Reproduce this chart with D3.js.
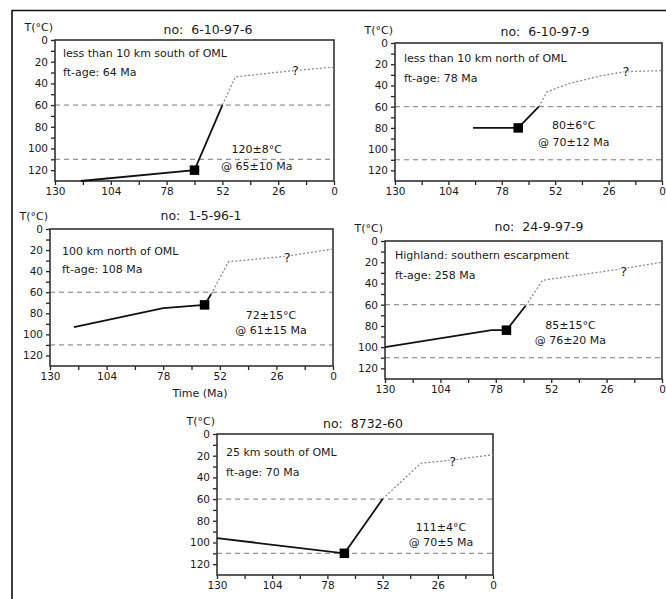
<!DOCTYPE html>
<html><head><meta charset="utf-8">
<script src="https://cdn.jsdelivr.net/npm/d3@7"></script>
<style>
body{margin:0;background:#fff;}
svg text{font-family:"DejaVu Sans",Verdana,sans-serif;fill:#1a1a1a;}
</style></head>
<body>
<script>
// ---- data ----
const titles = ["no:  6-10-97-6", "no:  6-10-97-9", "no:  1-5-96-1", "no:  24-9-97-9", "no:  8732-60"];
const locations = ["less than 10 km south of OML", "less than 10 km north of OML", "100 km north of OML", "Highland: southern escarpment", "25 km south of OML"];
const ftAges = ["ft-age: 64 Ma", "ft-age: 78 Ma", "ft-age: 108 Ma", "ft-age: 258 Ma", "ft-age: 70 Ma"];
const tempLabels = ["120±8°C", "80±6°C", "72±15°C", "85±15°C", "111±4°C"];
const ageLabels = ["@ 65±10 Ma", "@ 70±12 Ma", "@ 61±15 Ma", "@ 76±20 Ma", "@ 70±5 Ma"];
const squareTimes = [65, 70, 59, 73, 70];
const squareTemps = [120, 80, 72, 84, 110];
const solidPaths = [
  [[118,130],[65,120],[52,60]],
  [[92,80],[70,80],[60,60]],
  [[119,93],[78,75],[59,72],[56,62]],
  [[130,100],[80,84],[73,84],[64,61]],
  [[130,96],[70,110],[52,60]]
];
const dottedPaths = [
  [[52,60],[46,34],[18,28],[0,25]],
  [[60,60],[56,46],[45,38],[30,31],[18,27],[0,26]],
  [[56,62],[48,31],[22,26],[0,19]],
  [[64,61],[56,37],[18,26],[0,20]],
  [[52,60],[34,27],[19,24],[0,19]]
];
const qmarks = [[18,28],[17.5,27],[21,27],[18,29],[19,25]];
const xTicks = [130, 104, 78, 52, 26, 0];
const xMinorTicks = [117, 91, 65, 39, 13];
const yTicks = [0, 20, 40, 60, 80, 100, 120];
const yMinorTicks = [10, 30, 50, 70, 90, 110];
const refTemps = [60, 110];
const tempAnnotPos = [[36,101,117],[43,78,94],[28.5,82,96],[43,80,94],[24.5,86,100]];

// ---- layout ----
const boxes = [ // left, right, top, bottom
  [55, 334, 40, 181],
  [395, 662, 43, 181],
  [50, 333, 229, 366],
  [385, 662, 241, 379],
  [217, 493, 434, 575]
];
const textOffsets = [ // x-in, line1 dy, line2 dy
  [8, 13, 32], [9, 15, 35], [12, 22, 40], [10, 14, 34], [9, 18, 38]
];
const titleCenters = [[208,29],[545,31],[201,215],[539,226],[363,423]];

const W = 666, H = 599;
const svg = d3.select("body").append("svg").attr("width", W).attr("height", H);

svg.append("path").attr("d", `M12,${H} L12,10.5 L${W},10.5`)
  .attr("fill","none").attr("stroke","#111").attr("stroke-width",1.6);

boxes.forEach((b, i) => {
  const [l, r, t, bt] = b;
  const x = d3.scaleLinear().domain([130, 0]).range([l, r]);
  const y = d3.scaleLinear().domain([0, 130]).range([t, bt]);
  const g = svg.append("g");

  g.selectAll(".ref").data(refTemps).join("line")
    .attr("x1", l).attr("x2", r).attr("y1", d => y(d)).attr("y2", d => y(d))
    .attr("stroke", "#7a7a7a").attr("stroke-width", 1).attr("stroke-dasharray", "5,4");

  g.append("g").attr("transform", `translate(0,${bt})`)
    .call(d3.axisBottom(x).tickValues(xTicks).tickSize(4).tickPadding(3).tickFormat(d3.format("d")));
  g.append("g").attr("transform", `translate(0,${bt})`)
    .call(d3.axisBottom(x).tickValues(xMinorTicks).tickSize(4).tickFormat(""));
  g.append("g").attr("transform", `translate(${l},0)`)
    .call(d3.axisLeft(y).tickValues(yTicks).tickSize(4).tickPadding(3).tickFormat(d3.format("d")));
  g.append("g").attr("transform", `translate(${l},0)`)
    .call(d3.axisLeft(y).tickValues(yMinorTicks).tickSize(4).tickFormat(""));
  g.selectAll(".domain").remove();
  g.selectAll(".tick line").attr("stroke", "#222").attr("stroke-width", 1.3);
  g.selectAll(".tick text").attr("font-size", 10.5)
    .style("font-family", '"DejaVu Sans",Verdana,sans-serif').attr("fill", "#1a1a1a");

  g.append("rect").attr("x", l).attr("y", t).attr("width", r - l).attr("height", bt - t)
    .attr("fill", "none").attr("stroke", "#333").attr("stroke-width", 1.6);

  const line = d3.line().x(d => x(d[0])).y(d => y(d[1]));
  g.append("path").attr("d", line(dottedPaths[i])).attr("fill", "none")
    .attr("stroke", "#8a8a8a").attr("stroke-width", 1.3).attr("stroke-dasharray", "2,2");
  g.append("path").attr("d", line(solidPaths[i])).attr("fill", "none")
    .attr("stroke", "#111").attr("stroke-width", 1.8);

  const s = 9.5;
  g.append("rect").attr("x", x(squareTimes[i]) - s/2).attr("y", y(squareTemps[i]) - s/2)
    .attr("width", s).attr("height", s).attr("fill", "#000");

  g.append("text").attr("x", x(qmarks[i][0])).attr("y", y(qmarks[i][1]))
    .attr("text-anchor", "middle").attr("dominant-baseline", "central")
    .attr("font-size", 13).attr("fill", "#333")
    .attr("stroke", "#fff").attr("stroke-width", 2).attr("paint-order", "stroke").text("?");

  const to = textOffsets[i];
  g.append("text").attr("x", l + to[0]).attr("y", t + to[1]).attr("dominant-baseline", "central")
    .attr("font-size", 11).text(locations[i]);
  g.append("text").attr("x", l + to[0]).attr("y", t + to[2]).attr("dominant-baseline", "central")
    .attr("font-size", 11).text(ftAges[i]);

  const ap = tempAnnotPos[i];
  g.append("text").attr("x", x(ap[0])).attr("y", y(ap[1])).attr("text-anchor", "middle")
    .attr("dominant-baseline", "central").attr("font-size", 11).text(tempLabels[i]);
  g.append("text").attr("x", x(ap[0])).attr("y", y(ap[2])).attr("text-anchor", "middle")
    .attr("dominant-baseline", "central").attr("font-size", 11).text(ageLabels[i]);

  g.append("text").attr("x", titleCenters[i][0]).attr("y", titleCenters[i][1])
    .attr("text-anchor", "middle").attr("dominant-baseline", "central")
    .style("white-space", "pre").attr("font-size", 12.5).text(titles[i]);
  g.append("text").attr("x", l - 2).attr("y", t - 13).attr("text-anchor", "end")
    .attr("dominant-baseline", "central").attr("font-size", 11).text("T(°C)");

  if (i === 2) {
    g.append("text").attr("x", 200).attr("y", bt + 27).attr("text-anchor", "middle")
      .attr("dominant-baseline", "central").attr("font-size", 11).text("Time (Ma)");
  }
});
</script>
</body></html>
